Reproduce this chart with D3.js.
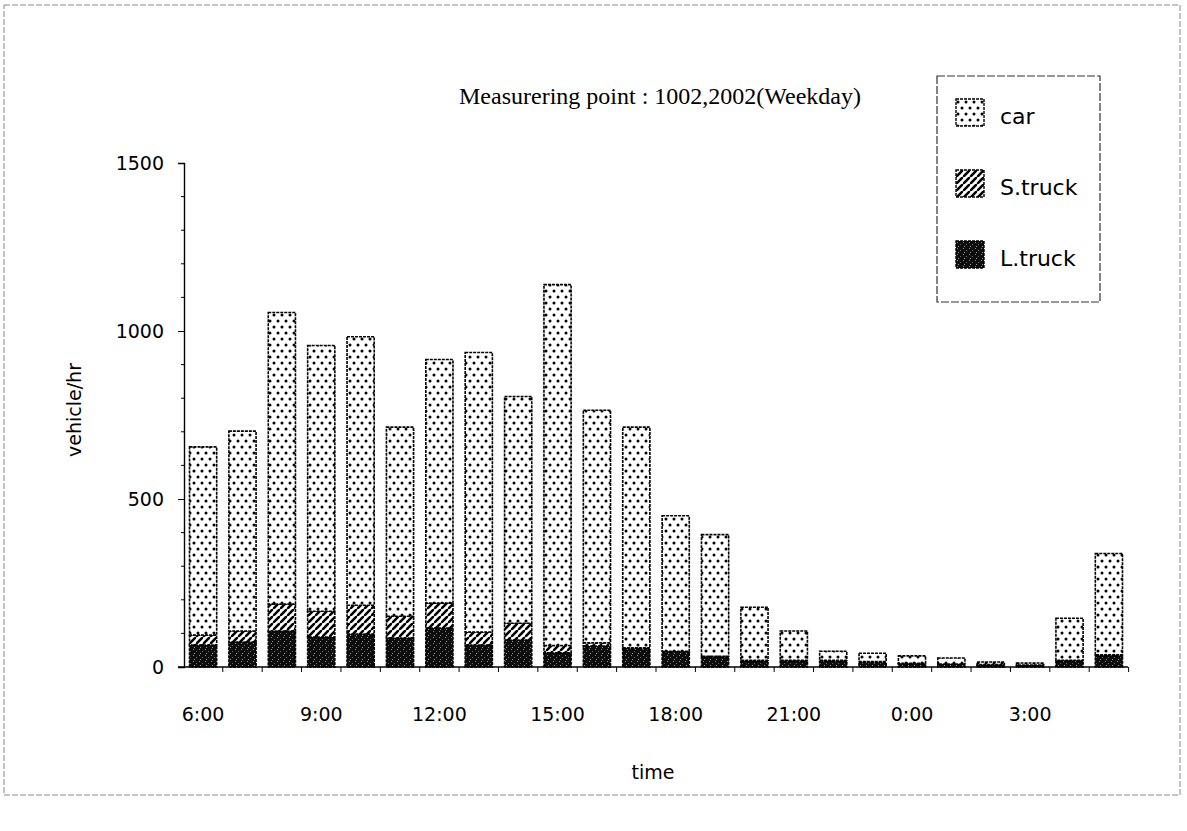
<!DOCTYPE html>
<html>
<head>
<meta charset="utf-8">
<script src="https://cdn.jsdelivr.net/npm/d3@7"></script>
<style>
	body { margin: 0; background: #fff; }
	text { fill: #000; }
	.tick-label { font-family: 'DejaVu Sans', sans-serif; font-size: 19px; }
</style>
</head>
<body>
<script>
const w = 1187;
const h = 831;

// data (vehicle/hr)
const hours = ['6:00', '7:00', '8:00', '9:00', '10:00', '11:00', '12:00', '13:00', '14:00', '15:00', '16:00', '17:00',
	'18:00', '19:00', '20:00', '21:00', '22:00', '23:00', '0:00', '1:00', '2:00', '3:00', '4:00', '5:00'];
const lTruck = [65, 74, 107, 89, 98, 86, 116, 65, 80, 42, 62, 52, 44, 30, 18, 18, 18, 14, 10, 8, 6, 5, 18, 33];
const sTruck = [30, 33, 80, 77, 86, 65, 74, 39, 50, 22, 10, 5, 3, 2, 2, 2, 2, 2, 1, 1, 1, 1, 2, 3];
const car = [560, 595, 868, 791, 799, 563, 725, 832, 675, 1074, 692, 657, 403, 362, 158, 87, 27, 25, 22, 18, 8, 6, 125, 302];
const xTickLabels = ['6:00', '9:00', '12:00', '15:00', '18:00', '21:00', '0:00', '3:00'];
const yTicks = [0, 500, 1000, 1500];
const seriesNames = ['car', 'S.truck', 'L.truck'];

const margin = { top: 163, left: 184, right: 59, bottom: 164 };
const plotBottom = h - margin.bottom;

const rows = hours.map(function(d, i) {
	return { hour: d, 'L.truck': lTruck[i], 'S.truck': sTruck[i], car: car[i] };
});
const stack = d3.stack().keys(['L.truck', 'S.truck', 'car'])(rows);

let x = d3.scaleBand().domain(hours).range([margin.left, w - margin.right]).paddingInner(0.31).paddingOuter(0.14);
let y = d3.scaleLinear().domain([0, 1500]).range([plotBottom, margin.top]);

let svg = d3.select('body').append('svg').attr('width', w).attr('height', h);

// patterns
const defs = svg.append('defs');
let dots = defs.append('pattern').attr('id', 'dots').attr('patternUnits', 'userSpaceOnUse').attr('width', 8).attr('height', 12);
dots.append('rect').attr('width', 8).attr('height', 12).attr('fill', '#fff');
dots.append('circle').attr('cx', 2).attr('cy', 3).attr('r', 1.5).attr('fill', '#000');
dots.append('circle').attr('cx', 6).attr('cy', 9).attr('r', 1.5).attr('fill', '#000');

let hatch = defs.append('pattern').attr('id', 'hatch').attr('patternUnits', 'userSpaceOnUse').attr('width', 7).attr('height', 7);
hatch.append('rect').attr('width', 7).attr('height', 7).attr('fill', '#fff');
hatch.append('path').attr('d', 'M-1,8 L8,-1 M-2,1 L1,-2 M6,9 L9,6').attr('stroke', '#000').attr('stroke-width', 2.6);

let dark = defs.append('pattern').attr('id', 'dark').attr('patternUnits', 'userSpaceOnUse').attr('width', 6).attr('height', 6);
dark.append('rect').attr('width', 6).attr('height', 6).attr('fill', '#0d0d0d');
dark.append('rect').attr('x', 1).attr('y', 1).attr('width', 1).attr('height', 1).attr('fill', '#888');
dark.append('rect').attr('x', 4).attr('y', 3).attr('width', 1).attr('height', 1).attr('fill', '#666');
dark.append('rect').attr('x', 2).attr('y', 5).attr('width', 1).attr('height', 1).attr('fill', '#999');

const fills = { car: 'url(#dots)', 'S.truck': 'url(#hatch)', 'L.truck': 'url(#dark)' };

// outer frame
svg.append('rect').attr('x', 4).attr('y', 5).attr('width', 1176).attr('height', 790)
	.attr('fill', 'none').attr('stroke', '#888').attr('stroke-width', 1).attr('stroke-dasharray', '6,2');

// bars
svg.selectAll('.layer')
	.data(stack)
	.enter()
	.append('g')
	.attr('class', 'layer')
	.attr('fill', function(d) {
		return fills[d.key];
	})
	.selectAll('rect')
	.data(function(d) {
		return d;
	})
	.enter()
	.append('rect')
	.attr('x', function(d) {
		return x(d.data.hour);
	})
	.attr('width', x.bandwidth())
	.attr('y', function(d) {
		return y(d[1]);
	})
	.attr('height', function(d) {
		return y(d[0]) - y(d[1]);
	})
	.attr('stroke', '#000')
	.attr('stroke-width', 1.6)
	.attr('stroke-dasharray', '3,1');

// y axis
const yAxis = d3.axisLeft(y).tickValues(yTicks).tickSize(6).tickPadding(14).tickFormat(d3.format('d'));
let yg = svg.append('g').attr('transform', 'translate(' + margin.left + ',0)').call(yAxis);
yg.selectAll('text').attr('class', 'tick-label');
yg.selectAll('line').attr('stroke', '#000');
yg.select('.domain').attr('stroke', '#000').attr('stroke-width', 1.4);
yg.selectAll('.minor')
	.data(d3.range(100, 1500, 100).filter(function(v) { return v % 500 !== 0; }))
	.enter()
	.append('line')
	.attr('class', 'minor')
	.attr('x1', -3)
	.attr('x2', 0)
	.attr('y1', function(d) { return y(d); })
	.attr('y2', function(d) { return y(d); })
	.attr('stroke', '#000');

// x axis: baseline with ticks between bars
const step = x.step();
svg.append('line').attr('x1', margin.left - 6).attr('x2', w - margin.right).attr('y1', plotBottom).attr('y2', plotBottom)
	.attr('stroke', '#000').attr('stroke-width', 1.3);
svg.selectAll('.xtick')
	.data(hours)
	.enter()
	.append('line')
	.attr('class', 'xtick')
	.attr('x1', function(d) { return x(d) + x.bandwidth() + (step - x.bandwidth()) / 2; })
	.attr('x2', function(d) { return x(d) + x.bandwidth() + (step - x.bandwidth()) / 2; })
	.attr('y1', plotBottom)
	.attr('y2', plotBottom + 5)
	.attr('stroke', '#000');

svg.selectAll('.xlabel')
	.data(xTickLabels)
	.enter()
	.append('text')
	.attr('class', 'tick-label')
	.attr('x', function(d) { return x(d) + x.bandwidth() / 2; })
	.attr('y', plotBottom + 54)
	.attr('text-anchor', 'middle')
	.text(function(d) { return d; });

// axis titles
svg.append('text').attr('class', 'tick-label').attr('x', 653).attr('y', 779).attr('text-anchor', 'middle').text('time');
svg.append('text').attr('class', 'tick-label')
	.attr('transform', 'translate(81,410) rotate(-90)')
	.attr('text-anchor', 'middle')
	.text('vehicle/hr');

// title
svg.append('text')
	.attr('x', 660)
	.attr('y', 104)
	.attr('text-anchor', 'middle')
	.style('font-family', "'Liberation Serif', serif")
	.style('font-size', '24px')
	.text('Measurering point : 1002,2002(Weekday)');

// legend
let legend = svg.append('g').attr('transform', 'translate(937,76)');
legend.append('rect').attr('width', 163).attr('height', 226).attr('fill', '#fff')
	.attr('stroke', '#333').attr('stroke-width', 1.2).attr('stroke-dasharray', '8,2');
let items = legend.selectAll('.item')
	.data(seriesNames)
	.enter()
	.append('g')
	.attr('class', 'item')
	.attr('transform', function(d, i) { return 'translate(19,' + (23 + i * 71) + ')'; });
items.append('rect').attr('width', 28).attr('height', 27)
	.attr('fill', function(d) { return fills[d]; })
	.attr('stroke', '#000').attr('stroke-width', 1.4).attr('stroke-dasharray', '3,1');
items.append('text').attr('class', 'tick-label').attr('x', 44).attr('y', 25)
	.style('font-size', '22px')
	.text(function(d) { return d; });
</script>
</body>
</html>
